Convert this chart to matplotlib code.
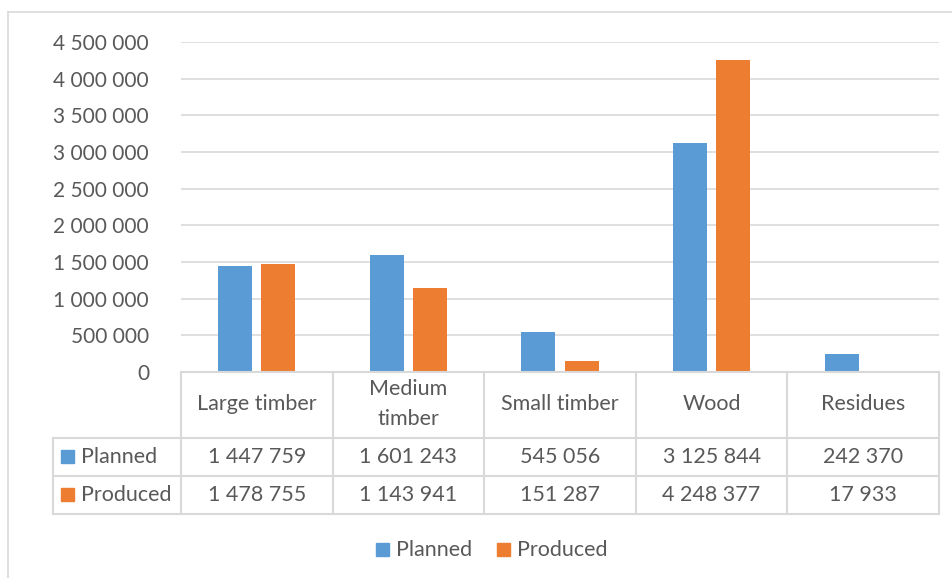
import matplotlib
matplotlib.use("Agg")
import matplotlib.pyplot as plt
from matplotlib.lines import Line2D
from matplotlib.patches import Rectangle

categories = ["Large timber", "Medium\ntimber", "Small timber", "Wood", "Residues"]
series_names = ["Planned", "Produced"]
planned = [1447759, 1601243, 545056, 3125844, 242370]
produced = [1478755, 1143941, 151287, 4248377, 17933]
yticks = [0, 500000, 1000000, 1500000, 2000000, 2500000, 3000000, 3500000, 4000000, 4500000]
colors = ["#5B9BD5", "#ED7D31"]

W, H = 952, 578
plt.rcParams['font.family'] = ['Lato', 'DejaVu Sans']
txt = "#595959"
grid = "#D9D9D9"
fs_tick = 15
fs = 15.5

def fmt(v):
    return f"{v:,}".replace(",", " ")

def fx(x):
    return x / W

def fy(y):
    return 1 - y / H

fig = plt.figure(figsize=(W / 100, H / 100), dpi=100)
fig.patch.set_facecolor("white")

x0, x1 = 181, 939
y_top, y_zero = 42, 372
ax = fig.add_axes([fx(x0), fy(y_zero), fx(x1) - fx(x0), fy(y_top) - fy(y_zero)])
n = len(categories)
ax.set_xlim(-0.5, n - 0.5)
ax.set_ylim(0, 4500000)
bw = 0.225
gap = 0.06
xs = list(range(n))
for i, (vals, c) in enumerate(zip([planned, produced], colors)):
    off = (i - 0.5) * (bw + gap)
    ax.bar([x + off for x in xs], vals, width=bw, color=c, zorder=3)
ax.set_yticks(yticks)
ax.set_yticklabels([fmt(v) for v in yticks], color=txt, fontsize=fs_tick)
ax.tick_params(axis='y', length=0, pad=23)
ax.set_xticks([])
ax.grid(axis='y', color=grid, linewidth=1.2, zorder=0)
for s in ax.spines.values():
    s.set_visible(False)

# outer chart frame
fig.add_artist(Line2D([fx(8), fx(8)], [fy(12), fy(578)], color=grid, lw=1.2))
fig.add_artist(Line2D([fx(8), fx(952)], [fy(12), fy(12)], color=grid, lw=1.2))

# data table
col_edges = [x0 + (x1 - x0) * k / n for k in range(n + 1)]
row_edges = [372, 438, 476, 514]
left_col = 53
lw = 1.5
fig.add_artist(Line2D([fx(x0), fx(x1)], [fy(row_edges[0])] * 2, color=grid, lw=lw))
for ry in row_edges[1:]:
    fig.add_artist(Line2D([fx(left_col), fx(x1)], [fy(ry)] * 2, color=grid, lw=lw))
for cx in col_edges:
    fig.add_artist(Line2D([fx(cx)] * 2, [fy(row_edges[0]), fy(row_edges[-1])], color=grid, lw=lw))
fig.add_artist(Line2D([fx(left_col)] * 2, [fy(row_edges[1]), fy(row_edges[-1])], color=grid, lw=lw))

for k, cat in enumerate(categories):
    cx = (col_edges[k] + col_edges[k + 1]) / 2
    fig.text(fx(cx), fy((row_edges[0] + row_edges[1]) / 2 - 1), cat, ha='center', va='center',
             color=txt, fontsize=fs, linespacing=1.6)
    for r, vals in enumerate([planned, produced]):
        cy = (row_edges[r + 1] + row_edges[r + 2]) / 2
        fig.text(fx(cx), fy(cy), fmt(vals[k]), ha='center', va='center', color=txt, fontsize=fs)

for r, (name, c) in enumerate(zip(series_names, colors)):
    cy = (row_edges[r + 1] + row_edges[r + 2]) / 2
    fig.add_artist(Rectangle((fx(61), fy(cy + 6)), fx(13), 13 / H, color=c))
    fig.text(fx(81), fy(cy), name, ha='left', va='center', color=txt, fontsize=fs)

# legend
leg_y = 550
for lx, name, c in [(376, series_names[0], colors[0]), (497, series_names[1], colors[1])]:
    fig.add_artist(Rectangle((fx(lx), fy(leg_y + 6)), fx(13), 13 / H, color=c))
    fig.text(fx(lx + 20), fy(leg_y), name, ha='left', va='center', color=txt, fontsize=fs)

fig.savefig("out.png", dpi=100, facecolor="white")
